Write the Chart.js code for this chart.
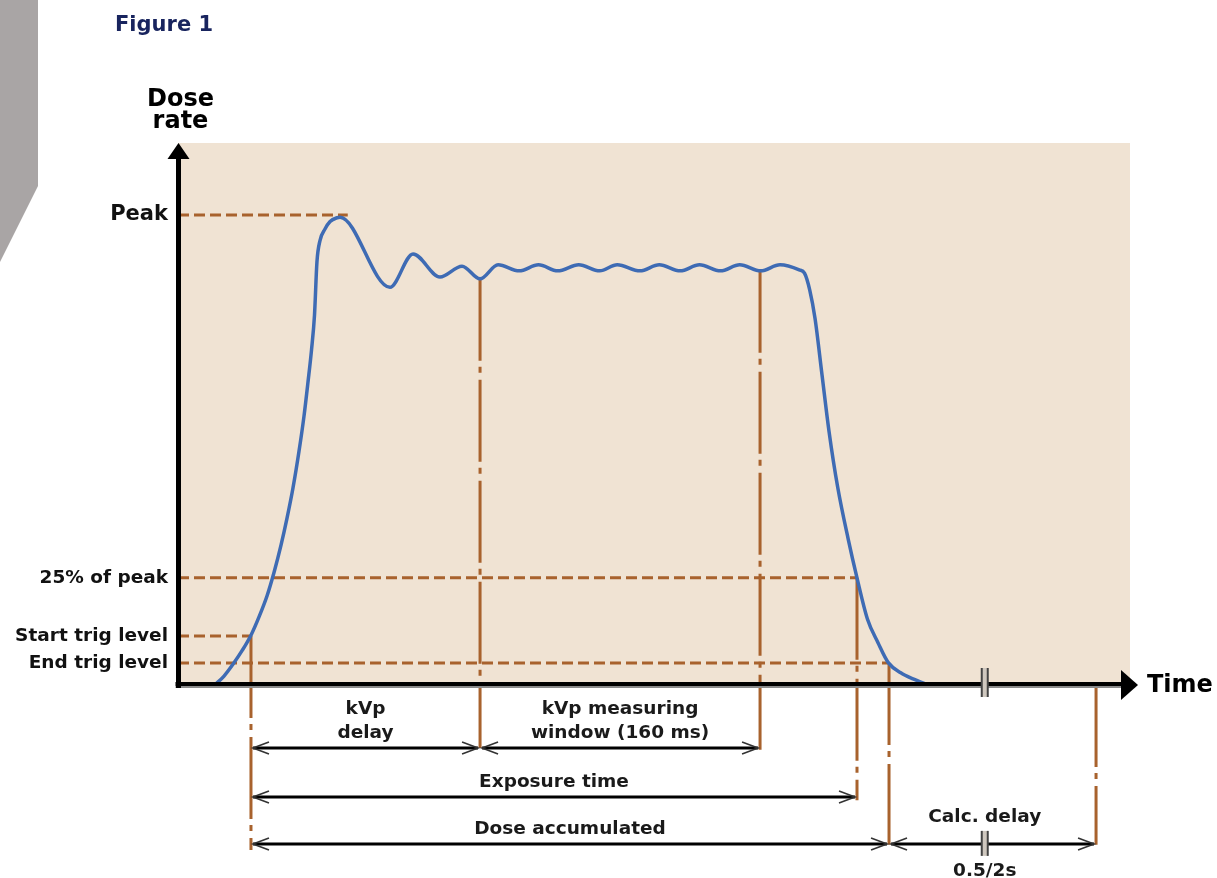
<!DOCTYPE html>
<html>
<head>
<meta charset="utf-8">
<script src="https://cdn.jsdelivr.net/npm/chart.js@4.4.1/dist/chart.umd.min.js"></script>
<style>
  html, body { margin: 0; padding: 0; background: #fff; }
  #wrap { width: 1217px; height: 878px; position: relative; }
</style>
</head>
<body>
<div id="wrap"><canvas id="chart"></canvas></div>
<script>
// time in ms from the origin, dose rate in % of peak
const curveTime = [21, 26.3, 31.4, 36.6, 41.7, 46.3, 50.9, 54.9, 58.9, 62.3, 65.7, 69.1, 72, 74.3, 76.3, 78, 79.4, 81.1,
    84, 86.9, 90.9, 92.6, 121.1, 134.3, 149.7, 162.3, 172.6, 182.9, 195, 206, 217, 229, 241, 251, 264, 275, 287, 298,
    310, 321, 333, 344, 355, 358, 361, 364, 368, 372, 377, 383, 388, 394, 400, 406, 413, 420, 429];
const curveDose = [0, 1.9, 4.4, 7.3, 10.6, 14.5, 19, 24, 29.8, 35.5, 41.9, 49.6, 57.2, 64.5, 71.3, 78.7, 90, 94.5,
    97, 98.6, 99.4, 99.5, 84.6, 91.7, 86.8, 89.1, 86.4, 89.4, 88.1, 89.4, 88.1, 89.4, 88.1, 89.4, 88.1, 89.4, 88.1, 89.4,
    88.1, 89.4, 88.1, 89.4, 88.3, 87.6, 84, 78, 66, 54, 42, 31, 22.8, 14, 9, 4.7, 2.6, 1.3, 0];

const levelNames = ['Peak', '25% of peak', 'Start trig level', 'End trig level'];
const levelDose = [100, 22.8, 10.4, 4.7];
const levelUntil = [97, 388, 41.7, 406.3];

// vertical markers (negative dose = below the time axis)
const markerTime = [41.7, 172.6, 332.6, 388, 406.3, 524.6];
const markerTop = [10.4, 86.4, 88.1, 22.8, 4.7, 0];
const markerBottom = [-35.1, -13.4, -13.8, -24.5, -34, -34];

const spanFrom = [41.7, 172.6, 41.7, 41.7, 406.3];
const spanTo = [172.6, 332.6, 388, 406.3, 524.6];
const spanRow = [-13.4, -13.4, -23.8, -33.8, -33.8];
const spanLabels = [['kVp', 'delay'], ['kVp measuring', 'window (160 ms)'], ['Exposure time'], ['Dose accumulated'], ['Calc. delay']];
const spanNote = ['', '', '', '', '0.5/2s'];
const breakTime = 461;

const brown = '#a8622d';
const blue = '#3e6bb4';
const font = 'DejaVu Sans';

function chevron(ctx, x, y, dir) {
    ctx.beginPath();
    ctx.moveTo(x - dir * 16, y - 6);
    ctx.lineTo(x, y);
    ctx.lineTo(x - dir * 16, y + 6);
    ctx.stroke();
}

function breakMark(ctx, x, y1, y2) {
    ctx.fillStyle = '#cfc8bf';
    ctx.fillRect(x - 3, y1, 6, y2 - y1);
    ctx.strokeStyle = '#444';
    ctx.lineWidth = 2;
    [x - 3, x + 3].forEach(bx => {
        ctx.beginPath();
        ctx.moveTo(bx, y1);
        ctx.lineTo(bx, y2);
        ctx.stroke();
    });
}

const decor = {
    id: 'decor',
    beforeDraw(chart) {
        const { ctx, chartArea: a } = chart;
        ctx.save();
        ctx.fillStyle = '#a9a5a5';
        ctx.beginPath();
        ctx.moveTo(0, 0);
        ctx.lineTo(38, 0);
        ctx.lineTo(38, 186);
        ctx.lineTo(0, 262);
        ctx.closePath();
        ctx.fill();
        ctx.fillStyle = '#f0e3d3';
        ctx.fillRect(a.left, a.top, a.right - a.left, a.bottom - a.top);
        ctx.restore();
    },
    afterDatasetsDraw(chart) {
        const { ctx, chartArea: a } = chart;
        const xs = chart.scales.x, ys = chart.scales.y;
        const x0 = a.left + 0.5, y0 = ys.getPixelForValue(0);
        ctx.save();

        // time axis
        ctx.strokeStyle = '#8a8a8a';
        ctx.lineWidth = 2;
        ctx.beginPath(); ctx.moveTo(x0 - 3, y0 + 2); ctx.lineTo(a.right - 8, y0 + 2); ctx.stroke();
        ctx.strokeStyle = '#000';
        ctx.lineWidth = 4;
        ctx.beginPath(); ctx.moveTo(x0 - 3, y0 - 1); ctx.lineTo(a.right - 8, y0 - 1); ctx.stroke();
        ctx.fillStyle = '#000';
        ctx.beginPath(); ctx.moveTo(a.right + 8, y0); ctx.lineTo(a.right - 9, y0 - 15); ctx.lineTo(a.right - 9, y0 + 15); ctx.fill();

        // dose rate axis
        ctx.lineWidth = 5;
        ctx.beginPath(); ctx.moveTo(x0, y0 + 3); ctx.lineTo(x0, a.top + 14); ctx.stroke();
        ctx.beginPath(); ctx.moveTo(x0, a.top); ctx.lineTo(x0 - 11, a.top + 16); ctx.lineTo(x0 + 11, a.top + 16); ctx.fill();

        const bx = xs.getPixelForValue(breakTime);
        breakMark(ctx, bx, y0 - 17, y0 + 12);

        // dimension arrows
        spanFrom.forEach((t0, i) => {
            const xa = xs.getPixelForValue(t0) + 2;
            const xb = xs.getPixelForValue(spanTo[i]) - 2;
            const yr = ys.getPixelForValue(spanRow[i]);
            ctx.strokeStyle = '#000';
            ctx.lineWidth = 3;
            ctx.beginPath(); ctx.moveTo(xa, yr); ctx.lineTo(xb, yr); ctx.stroke();
            ctx.strokeStyle = '#333';
            ctx.lineWidth = 1.6;
            chevron(ctx, xa, yr, -1);
            chevron(ctx, xb, yr, 1);

            const cx = spanNote[i] ? bx : (xa + xb) / 2;
            ctx.fillStyle = '#1a1a1a';
            ctx.font = `bold 18.5px "${font}"`;
            ctx.textAlign = 'center';
            ctx.textBaseline = 'alphabetic';
            const lines = spanLabels[i];
            const base = spanNote[i] ? yr - 22 : yr - 10;
            lines.forEach((s, k) => {
                ctx.fillText(s, cx, base - (lines.length - 1 - k) * 24);
            });
            if (spanNote[i]) {
                breakMark(ctx, bx, yr - 13, yr + 12);
                ctx.fillStyle = '#1a1a1a';
                ctx.fillText(spanNote[i], bx, yr + 32);
            }
        });

        // titles
        ctx.fillStyle = '#000';
        ctx.font = `bold 24px "${font}"`;
        ctx.textAlign = 'center';
        ctx.fillText('Dose', x0 + 2, 106);
        ctx.fillText('rate', x0 + 2, 128);
        ctx.textAlign = 'left';
        ctx.textBaseline = 'middle';
        ctx.fillText('Time', 1147, y0 + 1);
        ctx.textBaseline = 'alphabetic';
        ctx.fillStyle = '#18245e';
        ctx.font = `bold 21px "${font}"`;
        ctx.fillText('Figure 1', 115, 31);
        ctx.restore();
    }
};

const datasets = [{
    data: curveTime.map((t, i) => ({ x: t, y: curveDose[i] })),
    borderColor: blue,
    borderWidth: 3.5,
    cubicInterpolationMode: 'monotone',
}];
levelDose.forEach((v, i) => {
    datasets.push({
        data: [{ x: 0, y: v }, { x: levelUntil[i], y: v }],
        borderColor: brown,
        borderWidth: 3,
        borderDash: [11, 5],
    });
});
markerTime.forEach((t, i) => {
    datasets.push({
        data: [{ x: t, y: markerTop[i] }, { x: t, y: markerBottom[i] }],
        borderColor: brown,
        borderWidth: 3,
        borderDash: [82, 6, 6, 7],
        clip: false,
    });
});
datasets.forEach(d => { d.showLine = true; d.pointRadius = 0; d.fill = false; });

new Chart(document.getElementById('chart'), {
    type: 'scatter',
    data: { datasets },
    options: {
        responsive: true,
        maintainAspectRatio: false,
        animation: false,
        layout: { padding: { left: 0, right: 87, top: 143, bottom: 193 } },
        plugins: { legend: { display: false }, tooltip: { enabled: false } },
        scales: {
            x: { type: 'linear', min: 0, max: 544, display: false },
            y: {
                type: 'linear',
                min: 0,
                max: 115.3,
                afterFit: s => { s.width = 178; },
                afterBuildTicks: s => { s.ticks = levelDose.map(v => ({ value: v })); },
                grid: { display: false, drawTicks: false },
                border: { display: false },
                ticks: {
                    autoSkip: false,
                    padding: 10,
                    color: '#111',
                    font: c => ({ family: font, weight: 'bold', size: c.index === 0 ? 21 : 18.5 }),
                    callback: (v, i) => levelNames[i],
                },
            },
        },
    },
    plugins: [decor],
});
</script>
</body>
</html>
